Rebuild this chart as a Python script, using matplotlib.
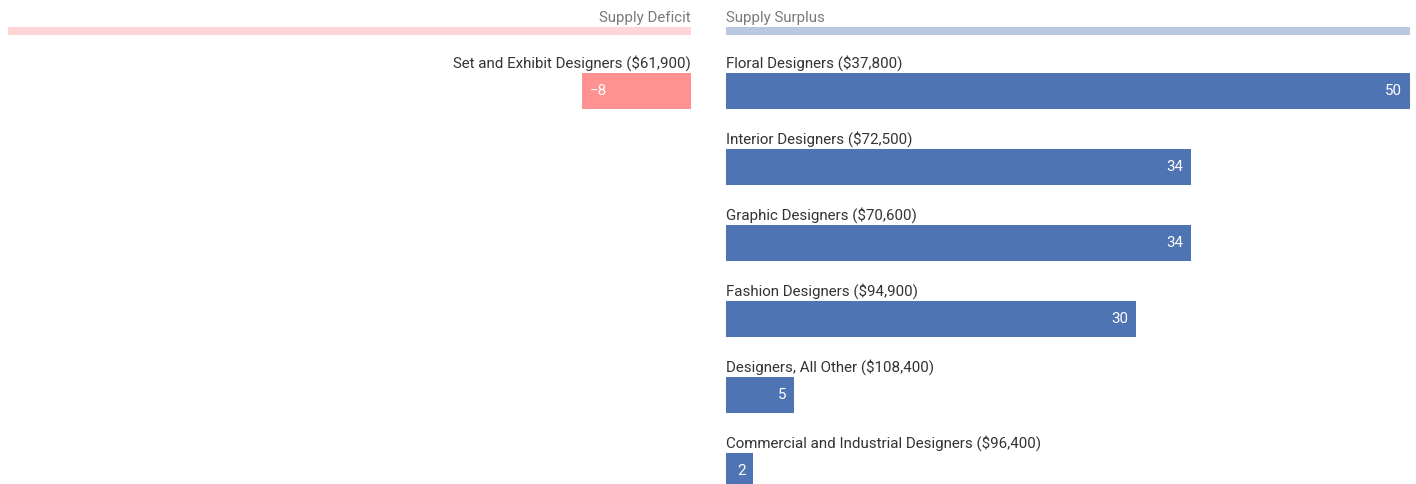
import matplotlib.pyplot as plt

plt.rcParams['font.family'] = ['Roboto', 'DejaVu Sans']

# occupations with a supply deficit (negative gap)
deficit_names = ["Set and Exhibit Designers ($61,900)"]
deficit_values = [-8]

# occupations with a supply surplus
surplus_names = [
    "Floral Designers ($37,800)",
    "Interior Designers ($72,500)",
    "Graphic Designers ($70,600)",
    "Fashion Designers ($94,900)",
    "Designers, All Other ($108,400)",
    "Commercial and Industrial Designers ($96,400)",
]
surplus_values = [50, 34, 34, 30, 5, 2]

W, H = 1416, 484
BLUE = "#4e74b3"
PINK = "#ff9190"
TEXT = "#333333"
GREY = "#7a7a7a"
FS = 10.9

ROW0 = 73      # top of first bar (px)
STEP = 76      # row spacing (px)
BAR_H = 36

fig = plt.figure(figsize=(W / 100, H / 100), dpi=100)
ax_l = fig.add_axes([8 / W, 0, 683 / W, 1])
ax_r = fig.add_axes([726 / W, 0, 684 / W, 1])


def setup(ax, lo, hi, title, head_color, side):
    ax.set_xlim(lo, hi)
    ax.set_ylim(H, 0)
    ax.axis("off")
    ax.barh(31, hi - lo, left=lo, height=8, color=head_color)
    x = hi if side == "right" else lo
    ax.text(x, 22, title, ha=side, va="baseline", fontsize=FS, color=GREY)


def draw_rows(ax, names, values, color, side):
    for i, (name, v) in enumerate(zip(names, values)):
        top = ROW0 + STEP * i
        yc = top + BAR_H / 2
        ax.barh(yc, v, height=BAR_H, color=color)
        ax.text(0, top - 5, name, ha=side, va="baseline", fontsize=FS, color=TEXT)
        txt = f"\u2212{abs(v)}" if v < 0 else str(v)
        dx = 8 if v < 0 else -8
        ax.annotate(txt, xy=(v, yc), xytext=(dx, 0), textcoords="offset pixels",
                    ha="left" if v < 0 else "right", va="center",
                    fontsize=FS, color="white")


setup(ax_l, -50, 0, "Supply Deficit", "#ffd5d6", "right")
setup(ax_r, 0, 50, "Supply Surplus", "#b9c7e0", "left")
draw_rows(ax_l, deficit_names, deficit_values, PINK, "right")
draw_rows(ax_r, surplus_names, surplus_values, BLUE, "left")

fig.savefig("out.png", dpi=100)
